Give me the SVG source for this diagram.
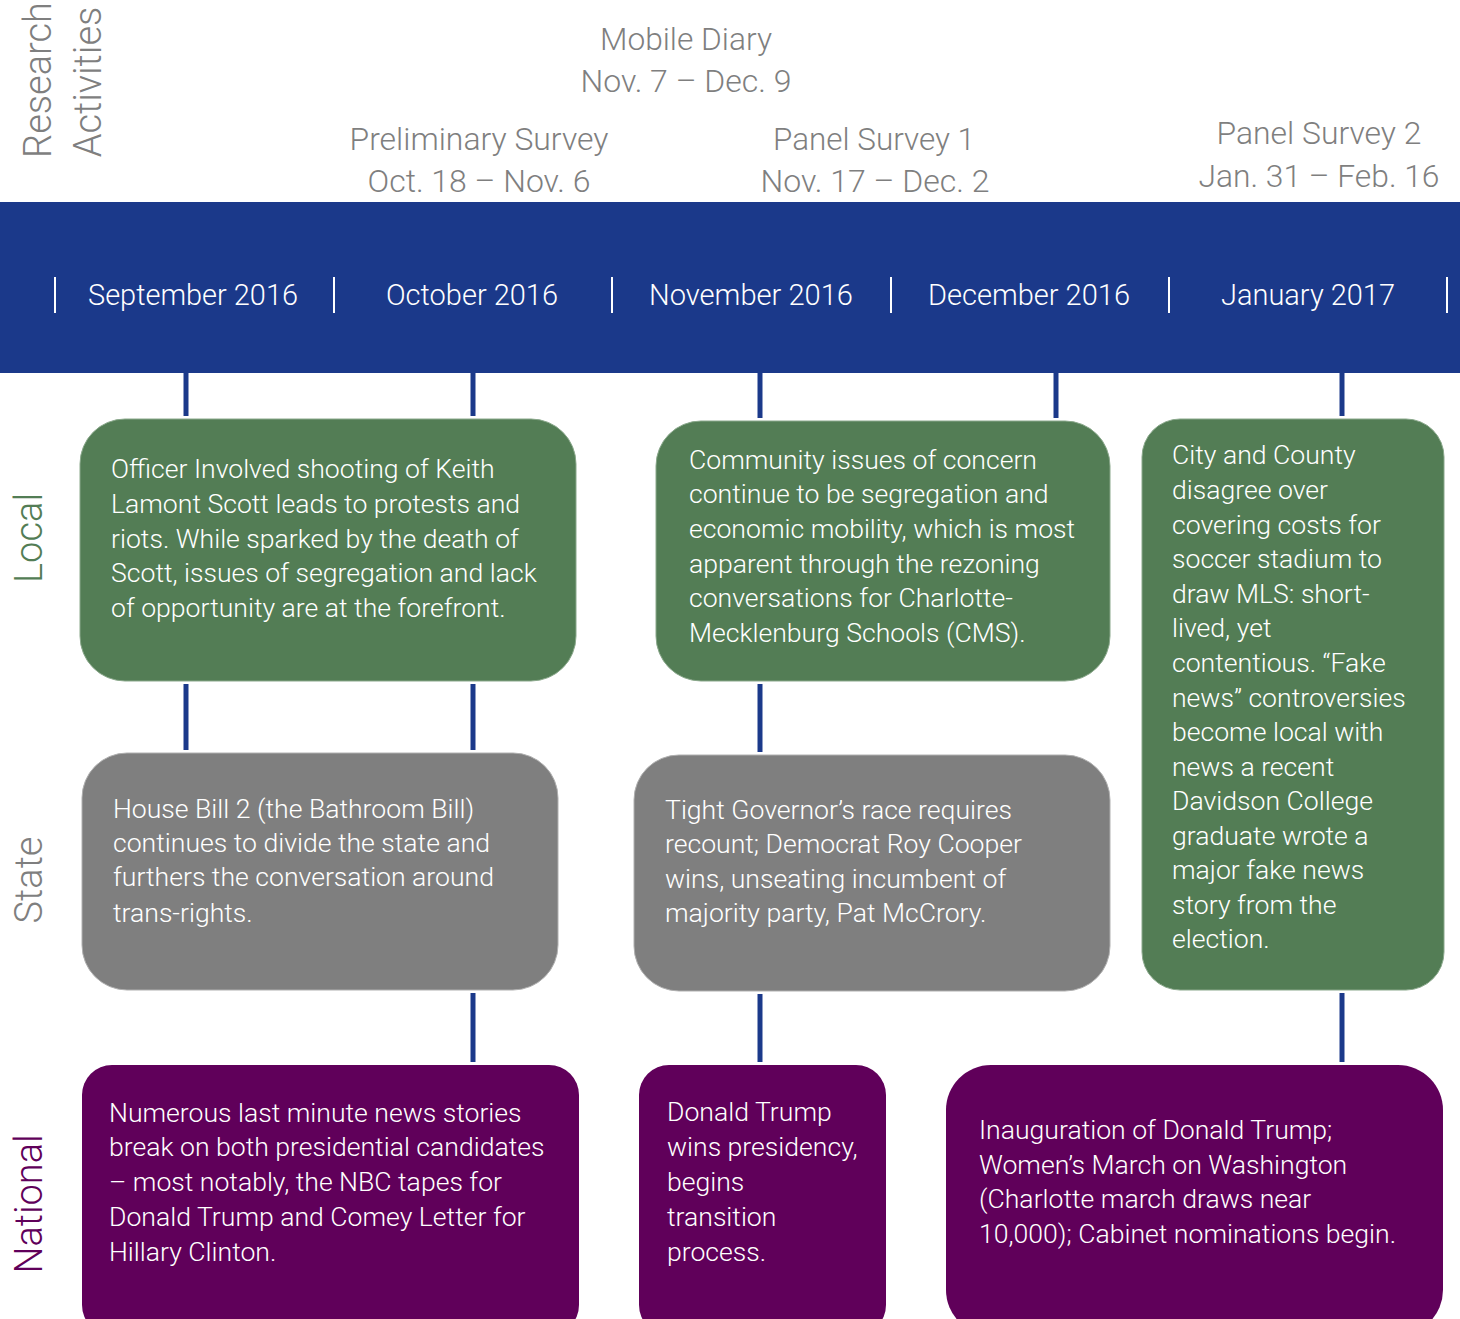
<svg xmlns="http://www.w3.org/2000/svg" width="1460" height="1319" viewBox="0 0 1460 1319">
<style>
text{font-family:Roboto,"Liberation Sans",sans-serif;font-weight:300}
.hdr{font-size:31px;fill:#7f7f7f;text-anchor:middle}
.mon{font-size:29px;fill:#ffffff;text-anchor:middle}
.body{font-size:26.6px;fill:#ffffff}
.lbl{font-size:38px}
.tick{stroke:#ffffff;stroke-width:2}
.conn{stroke:#1b398a;stroke-width:5}
.local{fill:#537d55;stroke:#8aa88b;stroke-width:1}
.state{fill:#7f7f7f;stroke:#b0b0b0;stroke-width:1}
.nat{fill:#60005a}
</style>
<rect x="0" y="0" width="1460" height="1319" fill="#ffffff"/>
<g id="research-label">
<text class="lbl" fill="#7f7f7f" transform="translate(51,80) rotate(-90)" text-anchor="middle">Research</text>
<text class="lbl" fill="#7f7f7f" transform="translate(101,82) rotate(-90)" text-anchor="middle">Activities</text>
</g>
<g id="activities">
<text class="hdr" x="686" y="50" textLength="172" lengthAdjust="spacingAndGlyphs">Mobile Diary</text>
<text class="hdr" x="686" y="92" textLength="211" lengthAdjust="spacingAndGlyphs">Nov. 7 – Dec. 9</text>
<text class="hdr" x="479" y="150" textLength="259" lengthAdjust="spacingAndGlyphs">Preliminary Survey</text>
<text class="hdr" x="479" y="192" textLength="223" lengthAdjust="spacingAndGlyphs">Oct. 18 – Nov. 6</text>
<text class="hdr" x="874" y="150" textLength="202" lengthAdjust="spacingAndGlyphs">Panel Survey 1</text>
<text class="hdr" x="875" y="192" textLength="229" lengthAdjust="spacingAndGlyphs">Nov. 17 – Dec. 2</text>
<text class="hdr" x="1319" y="144" textLength="205" lengthAdjust="spacingAndGlyphs">Panel Survey 2</text>
<text class="hdr" x="1319" y="187" textLength="241" lengthAdjust="spacingAndGlyphs">Jan. 31 – Feb. 16</text>
</g>
<g id="timeline">
<rect x="0" y="202" width="1460" height="171" fill="#1b398a"/>
<line class="tick" x1="55" y1="277" x2="55" y2="313"/>
<line class="tick" x1="334" y1="277" x2="334" y2="313"/>
<line class="tick" x1="612" y1="277" x2="612" y2="313"/>
<line class="tick" x1="891" y1="277" x2="891" y2="313"/>
<line class="tick" x1="1169" y1="277" x2="1169" y2="313"/>
<line class="tick" x1="1447" y1="277" x2="1447" y2="313"/>
<text class="mon" x="193" y="305" textLength="210" lengthAdjust="spacingAndGlyphs">September 2016</text>
<text class="mon" x="472" y="305" textLength="172" lengthAdjust="spacingAndGlyphs">October 2016</text>
<text class="mon" x="751" y="305" textLength="204" lengthAdjust="spacingAndGlyphs">November 2016</text>
<text class="mon" x="1029" y="305" textLength="202" lengthAdjust="spacingAndGlyphs">December 2016</text>
<text class="mon" x="1308" y="305" textLength="174" lengthAdjust="spacingAndGlyphs">January 2017</text>
</g>
<g id="connectors">
<line class="conn" x1="186" y1="373" x2="186" y2="416"/>
<line class="conn" x1="473" y1="373" x2="473" y2="416"/>
<line class="conn" x1="760" y1="373" x2="760" y2="418"/>
<line class="conn" x1="1056" y1="373" x2="1056" y2="418"/>
<line class="conn" x1="1342" y1="373" x2="1342" y2="416"/>
<line class="conn" x1="186" y1="684" x2="186" y2="750"/>
<line class="conn" x1="473" y1="684" x2="473" y2="750"/>
<line class="conn" x1="760" y1="684" x2="760" y2="752"/>
<line class="conn" x1="473" y1="993" x2="473" y2="1062"/>
<line class="conn" x1="760" y1="994" x2="760" y2="1062"/>
<line class="conn" x1="1342" y1="993" x2="1342" y2="1062"/>
</g>
<g id="row-labels">
<text class="lbl" fill="#537d55" transform="translate(42,538) rotate(-90)" text-anchor="middle">Local</text>
<text class="lbl" fill="#7f7f7f" transform="translate(42,880) rotate(-90)" text-anchor="middle">State</text>
<text class="lbl" fill="#60005a" transform="translate(42,1204) rotate(-90)" text-anchor="middle">National</text>
</g>
<g id="local-1">
<rect class="local" x="80" y="419" width="496" height="262" rx="45"/>
<text class="body" x="111" y="478">Officer Involved shooting of Keith</text>
<text class="body" x="111" y="513">Lamont Scott leads to protests and</text>
<text class="body" x="111" y="548">riots. While sparked by the death of</text>
<text class="body" x="111" y="582">Scott, issues of segregation and lack</text>
<text class="body" x="111" y="617">of opportunity are at the forefront.</text>
</g>
<g id="local-2">
<rect class="local" x="656" y="421" width="454" height="260" rx="45"/>
<text class="body" x="689" y="469">Community issues of concern</text>
<text class="body" x="689" y="503">continue to be segregation and</text>
<text class="body" x="689" y="538">economic mobility, which is most</text>
<text class="body" x="689" y="573">apparent through the rezoning</text>
<text class="body" x="689" y="607">conversations for Charlotte-</text>
<text class="body" x="689" y="642">Mecklenburg Schools (CMS).</text>
</g>
<g id="local-3">
<rect class="local" x="1142" y="419" width="302" height="571" rx="38"/>
<text class="body" x="1172" y="464">City and County</text>
<text class="body" x="1172" y="499">disagree over</text>
<text class="body" x="1172" y="534">covering costs for</text>
<text class="body" x="1172" y="568">soccer stadium to</text>
<text class="body" x="1172" y="603">draw MLS: short-</text>
<text class="body" x="1172" y="637">lived, yet</text>
<text class="body" x="1172" y="672">contentious. “Fake</text>
<text class="body" x="1172" y="707">news” controversies</text>
<text class="body" x="1172" y="741">become local with</text>
<text class="body" x="1172" y="776">news a recent</text>
<text class="body" x="1172" y="810">Davidson College</text>
<text class="body" x="1172" y="845">graduate wrote a</text>
<text class="body" x="1172" y="879">major fake news</text>
<text class="body" x="1172" y="914">story from the</text>
<text class="body" x="1172" y="948">election.</text>
</g>
<g id="state-1">
<rect class="state" x="82" y="753" width="476" height="237" rx="45"/>
<text class="body" x="113" y="818">House Bill 2 (the Bathroom Bill)</text>
<text class="body" x="113" y="852">continues to divide the state and</text>
<text class="body" x="113" y="886">furthers the conversation around</text>
<text class="body" x="113" y="922">trans-rights.</text>
</g>
<g id="state-2">
<rect class="state" x="634" y="755" width="476" height="236" rx="45"/>
<text class="body" x="665" y="819">Tight Governor’s race requires</text>
<text class="body" x="665" y="853">recount; Democrat Roy Cooper</text>
<text class="body" x="665" y="888">wins, unseating incumbent of</text>
<text class="body" x="665" y="922">majority party, Pat McCrory.</text>
</g>
<g id="national-1">
<rect class="nat" x="82" y="1065" width="497" height="270" rx="30"/>
<text class="body" x="109" y="1122">Numerous last minute news stories</text>
<text class="body" x="109" y="1156">break on both presidential candidates</text>
<text class="body" x="109" y="1191">– most notably, the NBC tapes for</text>
<text class="body" x="109" y="1226">Donald Trump and Comey Letter for</text>
<text class="body" x="109" y="1261">Hillary Clinton.</text>
</g>
<g id="national-2">
<rect class="nat" x="639" y="1065" width="247" height="270" rx="30"/>
<text class="body" x="667" y="1121">Donald Trump</text>
<text class="body" x="667" y="1156">wins presidency,</text>
<text class="body" x="667" y="1191">begins</text>
<text class="body" x="667" y="1226">transition</text>
<text class="body" x="667" y="1261">process.</text>
</g>
<g id="national-3">
<rect class="nat" x="946" y="1065" width="497" height="270" rx="45"/>
<text class="body" x="979" y="1139">Inauguration of Donald Trump;</text>
<text class="body" x="979" y="1174">Women’s March on Washington</text>
<text class="body" x="979" y="1208">(Charlotte march draws near</text>
<text class="body" x="979" y="1243">10,000); Cabinet nominations begin.</text>
</g>
</svg>
